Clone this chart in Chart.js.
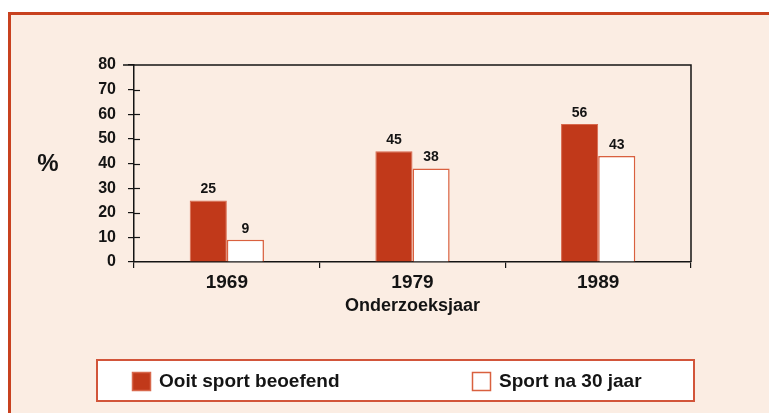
<!DOCTYPE html>
<html>
<head>
<meta charset="utf-8">
<script src="https://cdn.jsdelivr.net/npm/chart.js@4.4.1/dist/chart.umd.min.js"></script>
<style>
    html, body { margin: 0; padding: 0; background: #ffffff; }
    #wrap { position: relative; width: 769px; height: 413px; }
</style>
</head>
<body>
<div id="wrap"><canvas id="sportChart" width="769" height="413"></canvas></div>
<script>
// Data
const years = ['1969', '1979', '1989'];
const everSport = [25, 45, 56];
const sportAfter30 = [9, 38, 43];
const seriesNames = ['Ooit sport beoefend', 'Sport na 30 jaar'];
const yTickMax = 80;
const yTickStep = 10;

const FONT = "'Liberation Sans', Arial, sans-serif";
const INK = '#141414';
const RED = '#c1391a';

// Backdrop: peach panel with red top/left border
const backdrop = {
    id: 'backdrop',
    beforeDraw(chart) {
        const ctx = chart.ctx;
        ctx.save();
        ctx.fillStyle = '#ffffff';
        ctx.fillRect(0, 0, chart.width, chart.height);
        ctx.fillStyle = '#fbede3';
        ctx.fillRect(8, 12, chart.width - 8, chart.height - 12);
        ctx.fillStyle = '#c8411f';
        ctx.fillRect(8, 12, chart.width - 8, 3);
        ctx.fillRect(8, 12, 3, chart.height - 12);
        ctx.restore();
    }
};

// Frame, inner ticks, titles, value labels and legend
const decorations = {
    id: 'decorations',
    afterDraw(chart) {
        const ctx = chart.ctx;
        const area = chart.chartArea;
        const yScale = chart.scales.y;
        ctx.save();

        // box around plot
        ctx.strokeStyle = INK;
        ctx.lineWidth = 1.5;
        ctx.beginPath();
        ctx.moveTo(123, area.top);
        ctx.lineTo(area.right, area.top);
        ctx.lineTo(area.right, area.bottom);
        ctx.stroke();

        // ticks crossing into the plot
        ctx.lineWidth = 1.2;
        yScale.ticks.forEach(t => {
            if (t.value === 0 || t.value === yTickMax) return;
            const y = Math.round(yScale.getPixelForValue(t.value)) + 0.5;
            ctx.beginPath();
            ctx.moveTo(area.left, y);
            ctx.lineTo(area.left + 6, y);
            ctx.stroke();
        });

        ctx.fillStyle = INK;
        ctx.textAlign = 'center';
        ctx.textBaseline = 'middle';

        // y title
        ctx.font = 'bold 24px ' + FONT;
        ctx.fillText('%', 48, 164);

        // x title
        ctx.font = 'bold 18px ' + FONT;
        ctx.fillText('Onderzoeksjaar', (area.left + area.right) / 2, 306);

        // value labels
        ctx.font = 'bold 14px ' + FONT;
        ctx.textBaseline = 'bottom';
        chart.data.datasets.forEach((ds, i) => {
            chart.getDatasetMeta(i).data.forEach((bar, j) => {
                ctx.fillText(String(ds.data[j]), bar.x, bar.y - 4);
            });
        });

        // legend box
        ctx.fillStyle = '#ffffff';
        ctx.fillRect(97, 360, 597, 41);
        ctx.strokeStyle = '#d2553a';
        ctx.lineWidth = 2;
        ctx.strokeRect(97, 360, 597, 41);

        const itemX = [132, 472];
        ctx.font = 'bold 19px ' + FONT;
        ctx.textAlign = 'left';
        ctx.textBaseline = 'middle';
        chart.data.datasets.forEach((ds, i) => {
            const x = itemX[i];
            ctx.fillStyle = ds.backgroundColor;
            ctx.fillRect(x, 372, 19, 19);
            ctx.strokeStyle = ds.borderColor;
            ctx.lineWidth = 1.5;
            ctx.strokeRect(x + 0.5, 372.5, 18, 18);
            ctx.fillStyle = INK;
            ctx.fillText(ds.label, x + 27, 382);
        });

        ctx.restore();
    }
};

new Chart(document.getElementById('sportChart'), {
    type: 'bar',
    data: {
        labels: years,
        datasets: [{
            label: seriesNames[0],
            data: everSport,
            backgroundColor: RED,
            borderColor: '#d8684c',
            borderWidth: 1,
            categoryPercentage: 0.4,
            barPercentage: 1.0
        }, {
            label: seriesNames[1],
            data: sportAfter30,
            backgroundColor: '#ffffff',
            borderColor: '#d9603f',
            borderWidth: 1.5,
            categoryPercentage: 0.4,
            barPercentage: 1.0
        }]
    },
    options: {
        responsive: false,
        animation: false,
        devicePixelRatio: 1,
        layout: {
            padding: { top: 65, right: 78, bottom: 0, left: 0 }
        },
        plugins: {
            legend: { display: false },
            tooltip: { enabled: false }
        },
        scales: {
            x: {
                afterFit(scale) { scale.height = 151; },
                grid: {
                    offset: true,
                    drawOnChartArea: false,
                    color: INK,
                    tickLength: 6,
                    lineWidth: 1.2
                },
                border: { color: INK, width: 1.5 },
                ticks: {
                    color: INK,
                    padding: 3,
                    font: { family: FONT, size: 19, weight: 'bold' }
                }
            },
            y: {
                min: 0,
                max: yTickMax,
                afterFit(scale) { scale.width = 134; },
                grid: {
                    drawOnChartArea: false,
                    color: INK,
                    tickLength: 6,
                    lineWidth: 1.2
                },
                border: { color: INK, width: 1.5 },
                ticks: {
                    stepSize: yTickStep,
                    color: INK,
                    padding: 12,
                    font: { family: FONT, size: 16, weight: 'bold' }
                }
            }
        }
    },
    plugins: [backdrop, decorations]
});
</script>
</body>
</html>
